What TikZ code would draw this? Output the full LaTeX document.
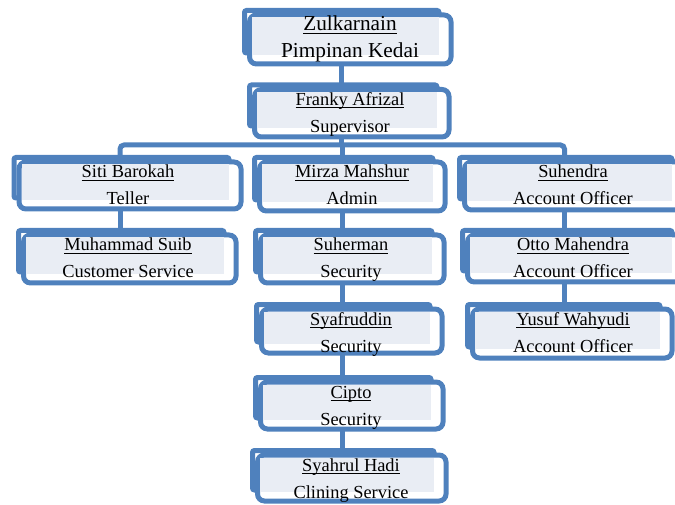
\documentclass[tikz,border=0pt]{standalone}
\usepackage{fontspec}
\setmainfont{Liberation Serif}
\usetikzlibrary{fit}
\definecolor{obl}{HTML}{4F81BD}
\definecolor{olt}{HTML}{E9EDF4}
\pgfdeclarelayer{bg}
\pgfsetlayers{bg,main}
\newcommand\ulx[1]{\setbox0\hbox{#1}\rlap{\rule[-2.6pt]{\wd0}{0.9pt}}\box0}
\tikzset{
  abox/.style={draw=obl, line width=5pt, rounded corners=2pt},
  bbox/.style={draw=obl, fill=white, line width=5pt, rounded corners=7pt},
  conn/.style={draw=obl, line width=5pt},
  lbl/.style={anchor=base, inner sep=0pt}
}
% 1 name 2 x0 3 y0 4 x1 5 y1 6 text x 7 size 8 line1 9 line2
\newcommand\orgbox[9]{%
  \draw[abox] (#2,#3) rectangle (#4,#5);
  \draw[bbox] (#2+5,#3+4.5) rectangle (#4+12,#5+11);
  \fill[olt] (#2+7.5,#3+7) rectangle (#4,#5+2);
  \node[fit={(#2+5,#3+4.5) (#4+12,#5+11)}, inner sep=0pt] (#1) {};
  \node[lbl, font=\fontsize{#7}{#7}\selectfont] (#1-n) at (#6,#3+20.5) {\ulx{#8}};
  \node[lbl, font=\fontsize{#7}{#7}\selectfont] (#1-r) at (#6,#3+47.5) {#9};
}
\begin{document}
\begin{tikzpicture}[x=1pt,y=-1pt]
\clip (0,0) rectangle (675,505);
\orgbox{zul}{244.5}{10.5}{439}{53}{350}{21.3}{Zulkarnain}{Pimpinan Kedai}
\orgbox{fra}{249.5}{85}{437}{126}{350}{18.4}{Franky Afrizal}{Supervisor}
\orgbox{siti}{14}{157.5}{229}{198}{128}{18.4}{Siti Barokah}{Teller}
\orgbox{mir}{254.5}{157.5}{433}{200}{352}{18.4}{Mirza Mahshur}{Admin}
\orgbox{suh}{459.5}{157.5}{672}{199}{573}{18.4}{Suhendra}{Account Officer}
\orgbox{suib}{18.5}{230.5}{224}{272}{128}{18.4}{Muhammad Suib}{Customer Service}
\orgbox{sher}{255.5}{230.5}{432}{272}{351}{18.4}{Suherman}{Security}
\orgbox{otto}{462.5}{230.5}{672}{271}{573}{18.4}{Otto Mahendra}{Account Officer}
\orgbox{syaf}{256.5}{304.5}{430}{342}{351}{18.4}{Syafruddin}{Security}
\orgbox{yus}{467.5}{304.5}{660}{347}{573}{18.4}{Yusuf Wahyudi}{Account Officer}
\orgbox{cip}{255.5}{377.5}{431}{418}{351}{18.4}{Cipto}{Security}
\orgbox{syah}{252.5}{450.5}{434}{490}{351}{18.4}{Syahrul Hadi}{Clining Service}
\begin{pgfonlayer}{bg}
\coordinate (cx1) at (341,0);
\coordinate (cxL) at (120,0);
\coordinate (cxM) at (342.5,0);
\coordinate (cxR) at (564.5,0);
\coordinate (bar) at (0,145);
\draw[conn] (cx1 |- zul.south) -- (cx1 |- fra.north);
\draw[conn] (cx1 |- fra.south) -- (cx1 |- bar);
\draw[conn, rounded corners=4pt] (cxL |- siti.north) -- (cxL |- bar) -- (cxR |- bar) -- (cxR |- suh.north);
\draw[conn] (cxM |- bar) -- (cxM |- mir.north);
\draw[conn] (cxL |- siti.south) -- (cxL |- suib.north);
\draw[conn] (cxM |- mir.south) -- (cxM |- sher.north);
\draw[conn] (cxM |- sher.south) -- (cxM |- syaf.north);
\draw[conn] (cxM |- syaf.south) -- (cxM |- cip.north);
\draw[conn] (cxM |- cip.south) -- (cxM |- syah.north);
\draw[conn] (cxR |- suh.south) -- (cxR |- otto.north);
\draw[conn] (cxR |- otto.south) -- (cxR |- yus.north);
\end{pgfonlayer}
\end{tikzpicture}
\end{document}
